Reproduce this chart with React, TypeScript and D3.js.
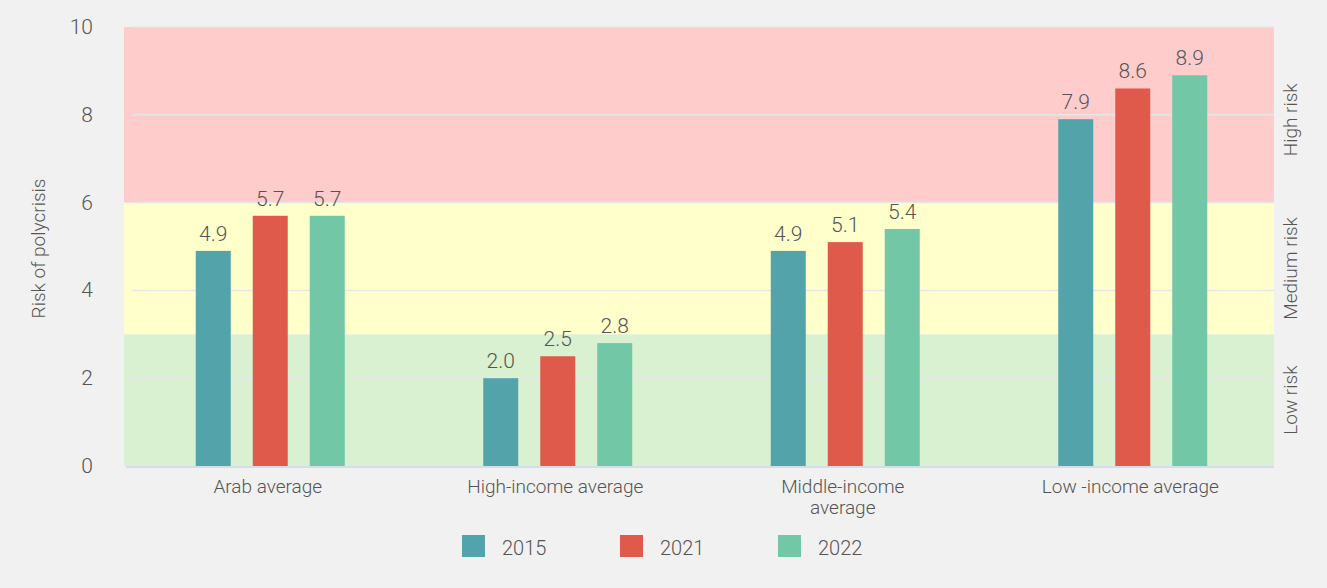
import * as d3 from 'd3';
import { useRef, useEffect } from 'react';

// chart values
const CATEGORIES = ['Arab average', 'High-income average', 'Middle-income average', 'Low -income average'];
const CATEGORY_LINES = [['Arab average'], ['High-income average'], ['Middle-income', 'average'], ['Low -income average']];
const YEARS = ['2015', '2021', '2022'];
const V2015 = [4.9, 2.0, 4.9, 7.9];
const V2021 = [5.7, 2.5, 5.1, 8.6];
const V2022 = [5.7, 2.8, 5.4, 8.9];
const Y_TICKS = [0, 2, 4, 6, 8, 10];
const BANDS = [
  { from: 0, to: 3, label: 'Low risk', color: '#daf1d1' },
  { from: 3, to: 6, label: 'Medium risk', color: '#ffffcc' },
  { from: 6, to: 10, label: 'High risk', color: '#ffcccc' },
];

const W = 1327;
const H = 588;
const MARGIN = { TOP: 27, RIGHT: 53, BOTTOM: 122, LEFT: 124 };
const COLORS = ['#52a3aa', '#e05a4b', '#72c7a7'];
const TEXT = '#555555';
const FONT = 'Roboto, "Noto Sans", sans-serif';

const App = () => {
  const svgRef = useRef<SVGSVGElement>(null);

  useEffect(() => {
    const svg = d3.select(svgRef.current);
    svg.selectAll('*').remove();

    const x = d3.scaleBand().domain(CATEGORIES).range([MARGIN.LEFT, W - MARGIN.RIGHT]);
    const xs = d3.scaleBand().domain(YEARS).range([-72, 77]).paddingInner(0.386).paddingOuter(0);
    const y = d3.scaleLinear().domain([0, 10]).range([H - MARGIN.BOTTOM, MARGIN.TOP]);
    const series = [V2015, V2021, V2022];

    svg.append('rect').attr('width', W).attr('height', H).attr('fill', '#f1f1f1');

    // risk bands
    svg
      .append('g')
      .selectAll('rect')
      .data(BANDS)
      .join('rect')
      .attr('x', MARGIN.LEFT)
      .attr('width', W - MARGIN.RIGHT - MARGIN.LEFT)
      .attr('y', (d) => y(d.to))
      .attr('height', (d) => y(d.from) - y(d.to))
      .attr('fill', (d) => d.color);

    // gridlines
    svg
      .append('g')
      .selectAll('line')
      .data(Y_TICKS.filter((t) => t > 0))
      .join('line')
      .attr('x1', MARGIN.LEFT + 8)
      .attr('x2', W - MARGIN.RIGHT)
      .attr('y1', (d) => y(d))
      .attr('y2', (d) => y(d))
      .attr('stroke', '#e6e6e6')
      .attr('stroke-width', 1.5);

    // baseline
    svg
      .append('line')
      .attr('x1', MARGIN.LEFT + 2)
      .attr('x2', W - MARGIN.RIGHT)
      .attr('y1', y(0) + 1)
      .attr('y2', y(0) + 1)
      .attr('stroke', '#c9d6ea')
      .attr('stroke-width', 1.5);

    // y ticks
    svg
      .append('g')
      .selectAll('text')
      .data(Y_TICKS)
      .join('text')
      .attr('x', 93)
      .attr('y', (d) => y(d) + 7)
      .attr('text-anchor', 'end')
      .attr('font-size', 21)
      .attr('font-weight', 300)
      .attr('fill', TEXT)
      .text((d) => d);

    svg
      .append('text')
      .attr('transform', `translate(45, ${y(5) + 2}) rotate(-90)`)
      .attr('text-anchor', 'middle')
      .attr('font-size', 19)
      .attr('font-weight', 300)
      .attr('fill', TEXT)
      .text('Risk of polycrisis');

    // band labels
    svg
      .append('g')
      .selectAll('text')
      .data(BANDS)
      .join('text')
      .attr('transform', (d) => `translate(1297, ${(y(d.from) + y(d.to)) / 2 + (d.from === 6 ? 5 : 0)}) rotate(-90)`)
      .attr('text-anchor', 'middle')
      .attr('font-size', 19)
      .attr('font-weight', 300)
      .attr('fill', TEXT)
      .text((d) => d.label);

    // bars
    const groups = svg
      .append('g')
      .selectAll('g')
      .data(CATEGORIES)
      .join('g')
      .attr('transform', (d) => `translate(${x(d)! + x.bandwidth() / 2}, 0)`);

    YEARS.forEach((yr, k) => {
      groups
        .append('rect')
        .attr('x', xs(yr)!)
        .attr('width', xs.bandwidth())
        .attr('y', (d, i) => y(series[k][i]))
        .attr('height', (d, i) => y(0) - y(series[k][i]))
        .attr('fill', COLORS[k]);
      groups
        .append('text')
        .attr('x', xs(yr)! + xs.bandwidth() / 2)
        .attr('y', (d, i) => y(series[k][i]) - 10)
        .attr('text-anchor', 'middle')
        .attr('font-size', 21)
        .attr('font-weight', 300)
        .attr('fill', TEXT)
        .text((d, i) => d3.format('.1f')(series[k][i]));
    });

    // category labels
    groups
      .append('text')
      .attr('text-anchor', 'middle')
      .attr('font-size', 19)
      .attr('font-weight', 300)
      .attr('fill', TEXT)
      .selectAll('tspan')
      .data((d, i) => CATEGORY_LINES[i])
      .join('tspan')
      .attr('x', 0)
      .attr('y', (d, j) => 493 + j * 21)
      .text((d) => d);

    // legend
    const legend = svg
      .append('g')
      .selectAll('g')
      .data(YEARS)
      .join('g')
      .attr('transform', (d, i) => `translate(${462 + i * 158}, 535)`);
    legend.append('rect').attr('width', 23).attr('height', 22).attr('fill', (d, i) => COLORS[i]);
    legend
      .append('text')
      .attr('x', 40)
      .attr('y', 20)
      .attr('font-size', 20)
      .attr('font-weight', 300)
      .attr('fill', TEXT)
      .text((d) => d);
  }, []);

  return (
    <svg
      ref={svgRef}
      width={W}
      height={H}
      style={{ position: 'absolute', left: 0, top: 0, fontFamily: FONT }}
    />
  );
};

export default App;
